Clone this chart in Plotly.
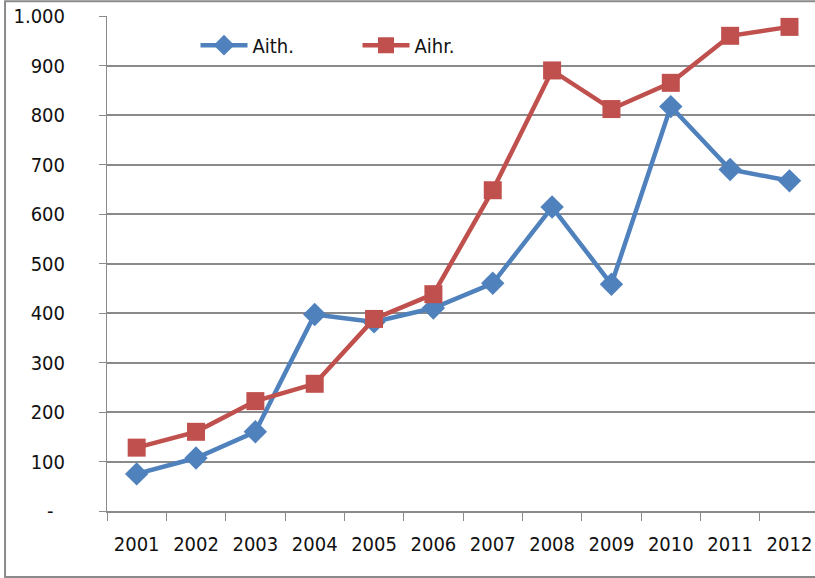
import plotly.graph_objects as go

years = ["2001", "2002", "2003", "2004", "2005", "2006",
         "2007", "2008", "2009", "2010", "2011", "2012"]
aith = [75, 107, 160, 397, 382, 410, 460, 614, 458, 817, 690, 667]
aihr = [128, 160, 222, 257, 388, 438, 648, 890, 812, 865, 960, 978]

y_ticks = [0, 100, 200, 300, 400, 500, 600, 700, 800, 900, 1000]
y_tick_text = ["-\u00a0\u00a0", "100", "200", "300", "400", "500", "600",
               "700", "800", "900", "1.000"]

FONT = "Liberation Sans Narrow, DejaVu Sans Condensed, Arial Narrow, sans-serif"
GRID = "#8a8a8a"

fig = go.Figure()
fig.add_trace(go.Scatter(
    x=years, y=aith, name="Aith.", mode="lines+markers",
    line=dict(color="#4F81BD", width=4.5),
    marker=dict(symbol="diamond", size=18, color="#4F81BD"),
))
fig.add_trace(go.Scatter(
    x=years, y=aihr, name="Aihr.", mode="lines+markers",
    line=dict(color="#C0504D", width=4.5),
    marker=dict(symbol="square", size=18, color="#C0504D"),
))

fig.update_layout(
    width=815, height=578,
    margin=dict(l=107, r=0, t=16, b=67, autoexpand=False),
    paper_bgcolor="white", plot_bgcolor="white",
    font=dict(family=FONT, size=20, color="#111111"),
    showlegend=True,
    legend=dict(
        orientation="h", x=0.125, y=0.941, xanchor="left", yanchor="middle",
        bgcolor="rgba(0,0,0,0)", font=dict(size=20),
        itemwidth=47, entrywidth=100, entrywidthmode="pixels",
    ),
    xaxis=dict(
        type="category", range=[-0.5, 11.43], automargin=False,
        showline=True, linecolor=GRID, linewidth=1.5,
        ticks="outside", tickson="boundaries", ticklen=8, tickcolor=GRID, tickwidth=1,
        showgrid=False, ticklabelstandoff=14, tickangle=0,
    ),
    yaxis=dict(
        range=[0, 1000], tickvals=y_ticks, ticktext=y_tick_text, automargin=False,
        showline=True, linecolor=GRID, linewidth=1,
        ticks="outside", ticklen=7, tickcolor=GRID,
        showgrid=True, gridcolor=GRID, gridwidth=1.5,
        zeroline=False, ticklabelstandoff=30,
    ),
    shapes=[dict(
        type="rect", xref="paper", yref="paper",
        x0=-0.144, x1=1.2, y0=-0.1333, y1=1.03,
        line=dict(color="#8a8a8a", width=2), layer="below",
    )],
)

fig.write_html("out.html")
